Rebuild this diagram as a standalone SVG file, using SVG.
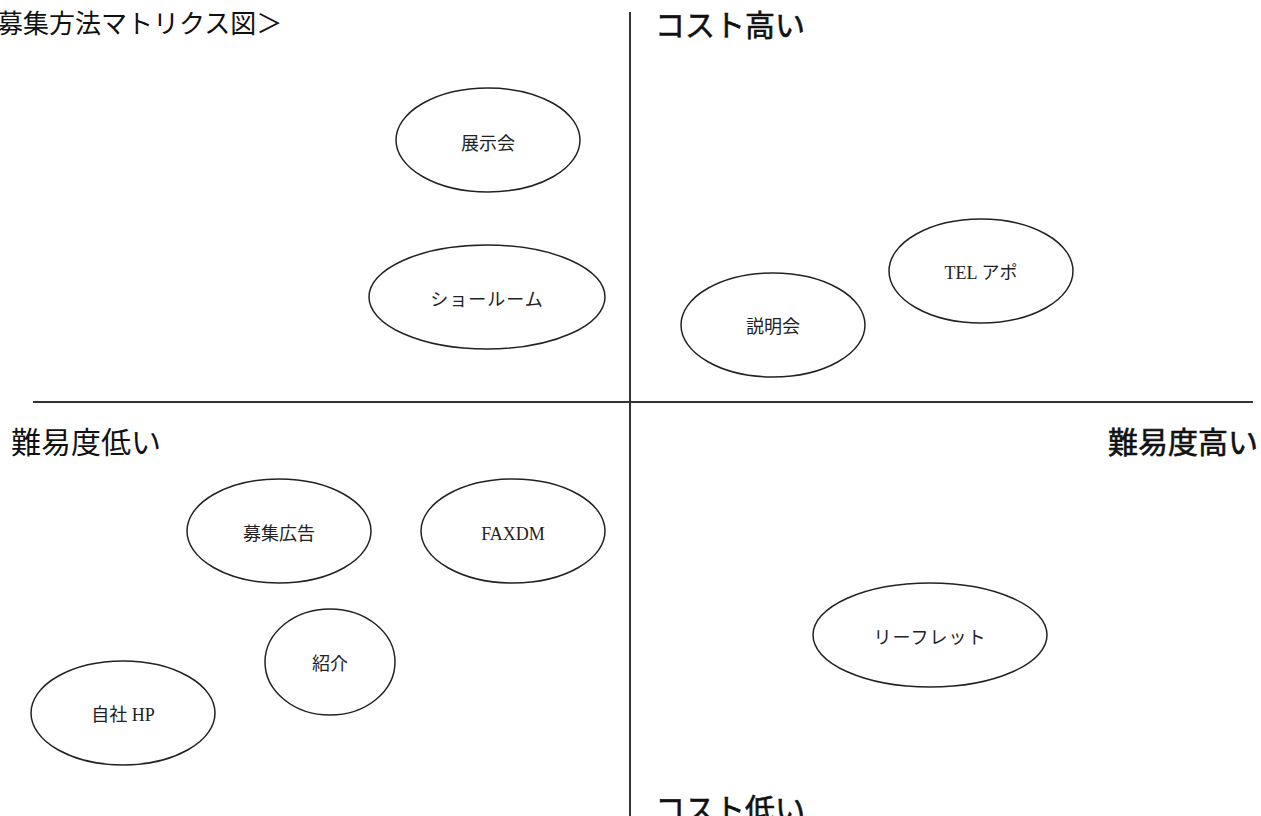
<svg xmlns="http://www.w3.org/2000/svg" width="1261" height="816" viewBox="0 0 1261 816">
<style>
.ax{stroke:#333;stroke-width:2;fill:none}
.nd ellipse{fill:#fff;stroke:#222;stroke-width:1.5}
.lb{font-family:"Liberation Serif","Noto Sans CJK JP",serif;font-size:18px;fill:#222;text-anchor:middle}
.hd{font-family:"Noto Sans CJK JP",sans-serif;font-size:30px;fill:#111}
.b{stroke:#111;stroke-width:0.6}
</style>
<rect width="1261" height="816" fill="#fff"/>
<g id="axes">
<line class="ax" x1="630" y1="12" x2="630" y2="816"/>
<line class="ax" x1="33" y1="402" x2="1253" y2="402"/>
</g>
<text class="hd" x="-3" y="33" style="font-size:26px">募集方法マトリクス図＞</text>
<text class="hd b" x="655" y="36">コスト高い</text>
<text class="hd" x="11" y="453">難易度低い</text>
<text class="hd b" x="1258" y="453" text-anchor="end">難易度高い</text>
<text class="hd b" x="655" y="820">コスト低い</text>
<g id="n-tenjikai" class="nd"><ellipse cx="488" cy="140" rx="92" ry="52"/><text class="lb" x="488" y="150">展示会</text></g>
<g id="n-showroom" class="nd"><ellipse cx="487" cy="297" rx="118" ry="52"/><text class="lb" x="487" y="306" letter-spacing="1">ショールーム</text></g>
<g id="n-setsumeikai" class="nd"><ellipse cx="773" cy="325" rx="92" ry="52"/><text class="lb" x="773" y="333">説明会</text></g>
<g id="n-telapo" class="nd"><ellipse cx="981" cy="271" rx="92" ry="52"/><text class="lb" x="981" y="279">TEL アポ</text></g>
<g id="n-boshukoukoku" class="nd"><ellipse cx="279" cy="531" rx="92" ry="52"/><text class="lb" x="279" y="540">募集広告</text></g>
<g id="n-faxdm" class="nd"><ellipse cx="513" cy="531" rx="92" ry="52"/><text class="lb" x="513" y="540">FAXDM</text></g>
<g id="n-shoukai" class="nd"><ellipse cx="330" cy="662" rx="65" ry="53"/><text class="lb" x="330" y="670">紹介</text></g>
<g id="n-jishahp" class="nd"><ellipse cx="123" cy="713" rx="92" ry="52"/><text class="lb" x="123" y="721">自社 HP</text></g>
<g id="n-leaflet" class="nd"><ellipse cx="930" cy="635" rx="117" ry="52"/><text class="lb" x="930" y="644" letter-spacing="1">リーフレット</text></g>
<g id="connectors"></g>
</svg>
